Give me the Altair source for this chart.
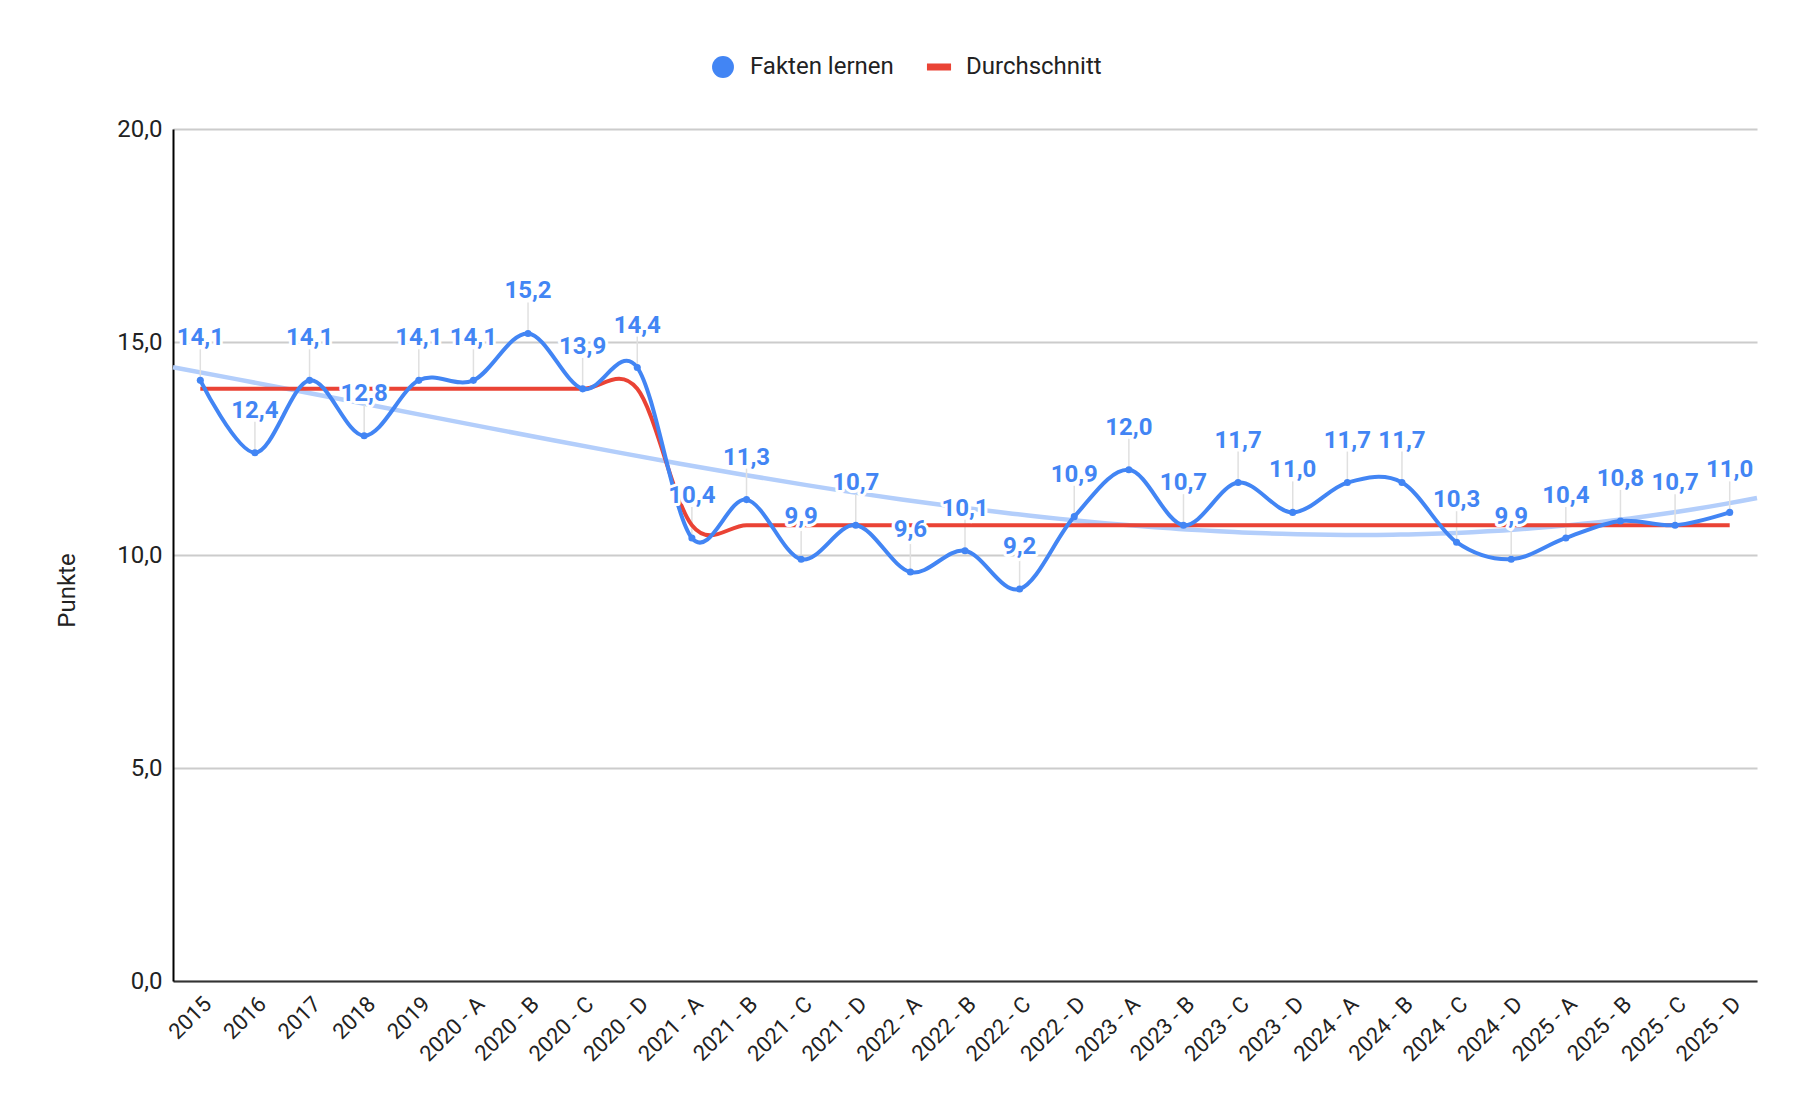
import json
import altair as alt
import pandas as pd

categories = ["2015", "2016", "2017", "2018", "2019",
              "2020 - A", "2020 - B", "2020 - C", "2020 - D",
              "2021 - A", "2021 - B", "2021 - C", "2021 - D",
              "2022 - A", "2022 - B", "2022 - C", "2022 - D",
              "2023 - A", "2023 - B", "2023 - C", "2023 - D",
              "2024 - A", "2024 - B", "2024 - C", "2024 - D",
              "2025 - A", "2025 - B", "2025 - C", "2025 - D"]
fakten = [14.1, 12.4, 14.1, 12.8, 14.1, 14.1, 15.2, 13.9, 14.4,
          10.4, 11.3, 9.9, 10.7, 9.6, 10.1, 9.2, 10.9,
          12.0, 10.7, 11.7, 11.0, 11.7, 11.7, 10.3, 9.9,
          10.4, 10.8, 10.7, 11.0]
durchschnitt = [13.9, 13.9, 13.9, 13.9, 13.9, 13.9, 13.9, 13.9, 13.9,
                10.7, 10.7, 10.7, 10.7, 10.7, 10.7, 10.7, 10.7,
                10.7, 10.7, 10.7, 10.7, 10.7, 10.7, 10.7, 10.7,
                10.7, 10.7, 10.7, 10.7]
series_names = ["Fakten lernen", "Durchschnitt"]
y_ticks = [0, 5, 10, 15, 20]

BLUE = "#4285f4"
RED = "#ea4335"
TREND = "#b3cefb"
FONT = "Roboto"

n = len(categories)
df = pd.DataFrame({
    "idx": list(range(n)),
    "cat": categories,
    "fakten": fakten,
    "avg": durchschnitt,
    "series": [series_names[0]] * n,
})

x_scale = alt.Scale(domain=[-0.5, n - 0.5], nice=False, zero=False)
x_axis = alt.Axis(
    values=list(range(n)),
    labelExpr=f"{json.dumps(categories)}[datum.value]",
    labelAngle=-45, labelAlign="right", labelBaseline="top",
    labelPadding=12, labelFontSize=22, labelFont=FONT, labelColor="#222222",
    ticks=False, grid=False, domainColor="#333333", domainWidth=2,
    labelOverlap=False, labelFlush=False, title=None,
)
y_scale = alt.Scale(domain=[0, 20], nice=False, zero=True)
y_axis = alt.Axis(
    values=y_ticks,
    labelExpr="replace(format(datum.value, '.1f'), '.', ',')",
    labelFontSize=24, labelFont=FONT, labelColor="#222222", labelPadding=11,
    ticks=False, domainColor="#000000", domainWidth=2,
    grid=True, gridColor="#cccccc", gridWidth=2,
    title="Punkte", titleFont=FONT, titleFontSize=24, titleFontWeight="normal",
    titleColor="#222222", titleX=-106, titleY=461, titleAlign="center",
    titleBaseline="middle", titleAngle=-90,
)


def X():
    return alt.X("idx:Q", scale=x_scale, axis=x_axis)


def Y(field):
    return alt.Y(f"{field}:Q", scale=y_scale, axis=y_axis, title="Punkte")


base = alt.Chart(df)

trend = base.transform_regression(
    "idx", "fakten", method="poly", order=3, extent=[-0.5, n - 0.5]
).mark_line(color=TREND, strokeWidth=4.5).encode(x=X(), y=Y("fakten"))

leaders = base.mark_rule(color="#e0e0e0", strokeWidth=1.5, y2Offset=-31).encode(
    x=X(), y=Y("fakten"), y2=alt.Y2("fakten:Q")
)

red_line = base.mark_line(color=RED, strokeWidth=4, interpolate="cardinal").encode(
    x=X(), y=Y("avg")
)
blue_line = base.mark_line(color=BLUE, strokeWidth=4, interpolate="cardinal").encode(
    x=X(), y=Y("fakten")
)

legend = alt.Legend(
    title=None, orient="none", legendX=538, legendY=-74, direction="horizontal",
    symbolSize=480, symbolStrokeWidth=0, labelFontSize=24, labelFont=FONT,
    labelColor="#222222", labelOffset=15, columnPadding=32, padding=0,
)
points = base.mark_point(filled=True, size=50, opacity=1).encode(
    x=X(), y=Y("fakten"),
    color=alt.Color("series:N", scale=alt.Scale(domain=series_names, range=[BLUE, RED]), legend=legend),
    shape=alt.Shape("series:N", scale=alt.Scale(domain=series_names,
                    range=["circle", "M-1.1,-0.32H1.1V0.32H-1.1Z"]), legend=legend),
)

label_expr = "replace(format(datum.fakten, '.1f'), '.', ',')"
halo = base.transform_calculate(label=label_expr).mark_text(
    font=FONT, fontSize=24, fontWeight="bold", dy=-35, baseline="alphabetic",
    align="center", fill="white", stroke="white", strokeWidth=6, strokeJoin="round",
).encode(x=X(), y=Y("fakten"), text="label:N")
labels = base.transform_calculate(label=label_expr).mark_text(
    font=FONT, fontSize=24, fontWeight="bold", dy=-35, baseline="alphabetic",
    align="center", color=BLUE,
).encode(x=X(), y=Y("fakten"), text="label:N")

chart = alt.layer(trend, leaders, red_line, blue_line, points, halo, labels).properties(
    width=1584, height=852,
    autosize=alt.AutoSizeParams(type="none"),
    padding={"left": 165, "top": 121, "right": 47, "bottom": 110},
    background="white",
).configure_view(stroke=None)

chart.save("out.html", embed_options={"renderer": "svg", "actions": False})
